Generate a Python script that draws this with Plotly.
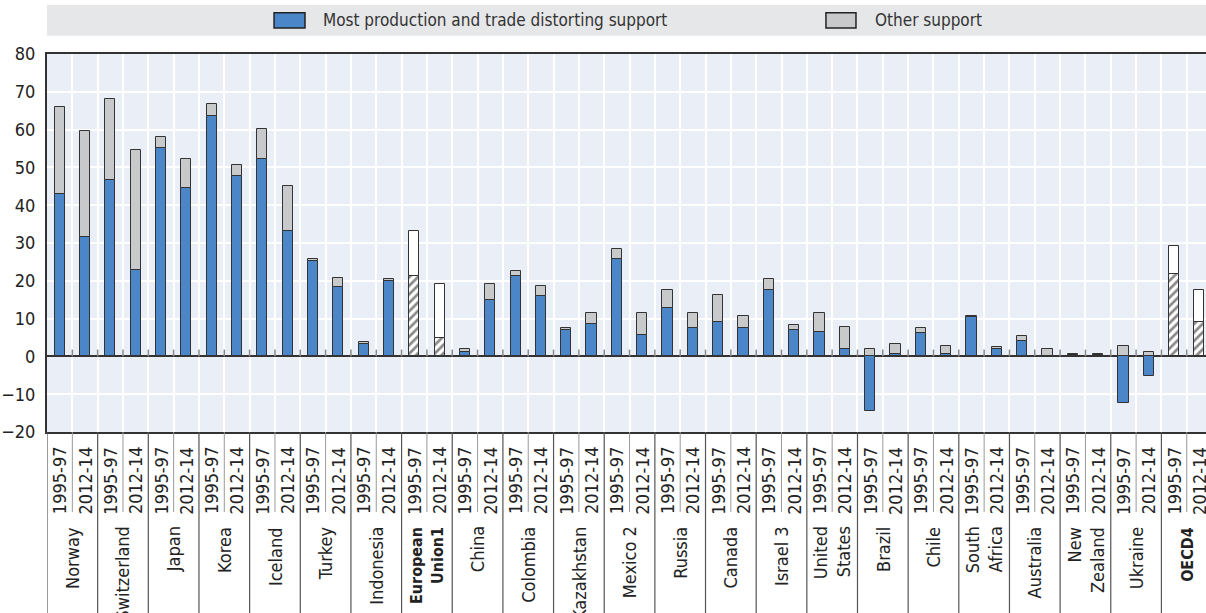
import plotly.graph_objects as go

countries = ["Norway", "Switzerland", "Japan", "Korea", "Iceland", "Turkey", "Indonesia",
             "<b>European<br>Union1</b>", "China", "Colombia", "Kazakhstan", "Mexico 2", "Russia",
             "Canada", "Israel 3", "United<br>States", "Brazil", "Chile", "South<br>Africa",
             "Australia", "New<br>Zealand", "Ukraine", "<b>OECD4</b>"]
aggregates = ["<b>European<br>Union1</b>", "<b>OECD4</b>"]
periods = ["1995-97", "2012-14"]

distorting_9597 = [43.0, 46.7, 55.1, 63.5, 52.1, 25.3, 3.2, 21.2, 1.1, 21.2, 7.0, 25.7, 12.9,
                   9.0, 17.5, 6.5, -14.4, 6.1, 10.3, 4.0, 0.5, -12.3, 21.7]
other_9597 = [22.9, 21.4, 3.0, 3.3, 8.0, 0.4, 0.5, 12.1, 0.8, 1.3, 0.5, 2.7, 4.6,
              7.2, 2.9, 5.1, 1.9, 1.3, 0.5, 1.4, 0.2, 2.8, 7.5]
distorting_1214 = [31.7, 22.9, 44.6, 47.6, 33.3, 18.3, 19.9, 4.9, 15.0, 16.1, 8.6, 5.7, 7.4,
                   7.4, 6.9, 1.9, 0.6, 0.7, 2.0, 0.1, 0.5, -5.1, 9.1]
other_1214 = [28.0, 31.8, 7.6, 3.0, 11.8, 2.5, 0.5, 14.2, 4.1, 2.6, 3.0, 5.9, 4.2,
              3.4, 1.3, 5.9, 2.7, 2.1, 0.5, 1.8, 0.2, 1.1, 8.4]

y_ticks = [-20, -10, 0, 10, 20, 30, 40, 50, 60, 70, 80]

FONT = "Liberation Sans Narrow, Arial Narrow, DejaVu Sans Condensed, sans-serif"
BLUE = "#4a86c8"
GREY = "#c8c9cb"
EDGE = "#333333"

xs, dist, oth, is_agg = [], [], [], []
for c, name in enumerate(countries):
    for p, (d, o) in enumerate([(distorting_9597[c], other_9597[c]), (distorting_1214[c], other_1214[c])]):
        xs.append(2 * c + p)
        dist.append(d)
        oth.append(o)
        is_agg.append(name in aggregates)

n = len(xs)
W = 0.4

def pick(vals, agg):
    return [x for x, a in zip(xs, is_agg) if a == agg], [v for v, a in zip(vals, is_agg) if a == agg]

fig = go.Figure()
bx, by = pick(dist, False)
fig.add_trace(go.Bar(x=bx, y=by, width=W, name="Most production and trade distorting support",
                     marker=dict(color=BLUE, line=dict(color=EDGE, width=1)), showlegend=False))
gx, gy = pick(oth, False)
fig.add_trace(go.Bar(x=gx, y=gy, width=W, name="Other support",
                     marker=dict(color=GREY, line=dict(color=EDGE, width=1)), showlegend=False))
hx, hy = pick(dist, True)
fig.add_trace(go.Bar(x=hx, y=hy, width=W, name="Most production and trade distorting support (aggregate)",
                     marker=dict(color="white", line=dict(color=EDGE, width=1),
                                 pattern=dict(shape="/", fgcolor="#111111", bgcolor="white", size=6, solidity=0.45)),
                     showlegend=False))
wx, wy = pick(oth, True)
fig.add_trace(go.Bar(x=wx, y=wy, width=W, name="Other support (aggregate)",
                     marker=dict(color="white", line=dict(color=EDGE, width=1)), showlegend=False))

shapes = []
boundaries = [i - 0.5 for i in range(n + 1)]
for b in boundaries[1:-1]:
    shapes.append(dict(type="line", xref="x", yref="y", x0=b, x1=b, y0=0, y1=1.8,
                       line=dict(color="#888888", width=1.5), layer="above"))
for i, b in enumerate(boundaries):
    if i % 2 == 0:
        shapes.append(dict(type="line", xref="x", yref="paper", x0=b, x1=b, y0=0, y1=-0.5,
                           line=dict(color="#555555", width=1.2)))
    else:
        shapes.append(dict(type="line", xref="x", yref="paper", x0=b, x1=b, y0=0, y1=-0.2116,
                           line=dict(color="#999999", width=1)))

shapes.append(dict(type="rect", xref="paper", yref="paper", x0=0, x1=1, y0=1.0484, y1=1.1296,
                   fillcolor="#e6e7e9", line=dict(width=0), layer="below"))
shapes.append(dict(type="rect", xref="paper", yref="paper", x0=0.1959, x1=0.2226, y0=1.0688, y1=1.1093,
                   fillcolor=BLUE, line=dict(color="#222222", width=1.5)))
shapes.append(dict(type="rect", xref="paper", yref="paper", x0=0.6721, x1=0.6980, y0=1.0688, y1=1.1093,
                   fillcolor=GREY, line=dict(color="#222222", width=1.5)))

annotations = [
    dict(text="Most production and trade distorting support", xref="paper", yref="paper",
         x=0.2362, y=1.0891, xanchor="left", yanchor="middle", showarrow=False,
         font=dict(family=FONT, size=17, color="#333333")),
    dict(text="Other support", xref="paper", yref="paper",
         x=0.7127, y=1.0891, xanchor="left", yanchor="middle", showarrow=False,
         font=dict(family=FONT, size=17, color="#333333")),
]
for i, x in enumerate(xs):
    annotations.append(dict(text=periods[i % 2], x=x, xref="x", yref="paper", y=-0.033,
                            xanchor="center", yanchor="top", textangle=-90, showarrow=False,
                            font=dict(family=FONT, size=18, color="#222222")))
for c, name in enumerate(countries):
    size = 16 if name in aggregates else 18
    annotations.append(dict(text=name, x=2 * c + 0.5, xref="x", yref="paper", y=-0.245,
                            xanchor="center", yanchor="top", textangle=-90, showarrow=False,
                            align="right", font=dict(family=FONT, size=size, color="#222222")))

fig.update_layout(
    width=1206, height=613,
    margin=dict(l=47, r=0, t=54, b=181, autoexpand=False),
    paper_bgcolor="white", plot_bgcolor="#e9eef7",
    barmode="relative", bargap=0,
    font=dict(family=FONT, size=18, color="#222222"),
    shapes=shapes, annotations=annotations,
    xaxis=dict(range=[-0.5, n - 0.5 - 0.24], tickvals=boundaries, showticklabels=False, ticks="",
               showgrid=True, gridcolor="white", gridwidth=1.5, zeroline=False, automargin=False,
               showline=True, linecolor="#333333", linewidth=2, mirror=True, fixedrange=True),
    yaxis=dict(range=[-20, 80], tickvals=y_ticks, showgrid=True, gridcolor="white", gridwidth=1.5,
               zeroline=True, zerolinecolor="#333333", zerolinewidth=1.5, automargin=False,
               showline=True, linecolor="#333333", linewidth=2, ticks="", ticklabelstandoff=6,
               tickfont=dict(family=FONT, size=18, color="#222222")),
)

fig.write_html("out.html", config={"displayModeBar": False},
               post_script="document.body.style.margin='0';document.body.style.overflow='hidden';"
                           "document.documentElement.style.overflow='hidden';")
